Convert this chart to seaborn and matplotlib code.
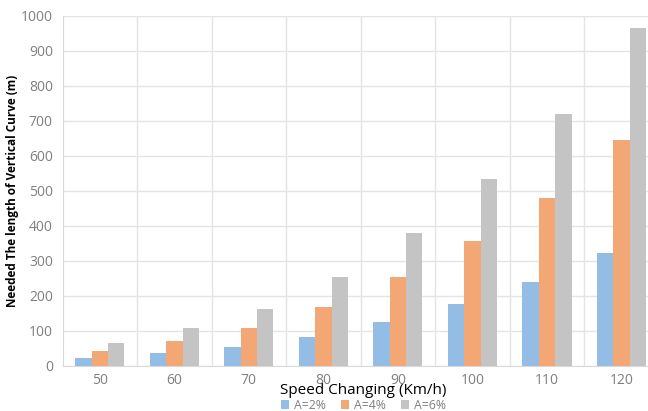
import pandas as pd
import matplotlib.pyplot as plt
import seaborn as sns

# --- data ---
speeds = ["50", "60", "70", "80", "90", "100", "110", "120"]
a2 = [23, 36, 53, 83, 125, 177, 240, 322]
a4 = [43, 71, 108, 167, 253, 356, 479, 645]
a6 = [66, 108, 162, 253, 378, 533, 720, 966]
series_names = ["A=2%", "A=4%", "A=6%"]
colors = ["#93BDE4", "#F2A774", "#C4C4C4"]

df = pd.DataFrame({
    "speed": speeds * 3,
    "length": a2 + a4 + a6,
    "series": [s for s in series_names for _ in speeds],
})

sns.set_style("white")
plt.rcParams["font.family"] = ["Open Sans", "DejaVu Sans"]

fig = plt.figure(figsize=(6.48, 4.11), dpi=100)
ax = fig.add_axes([0.0965, 0.110, 0.920, 0.852])

sns.barplot(
    data=df, x="speed", y="length", hue="series",
    palette=colors, width=0.66, saturation=1, linewidth=0,
    ax=ax, zorder=3,
)

ax.set_ylim(0, 1000)
ax.set_xlim(-0.5, len(speeds) - 0.5)
ax.set_yticks(range(0, 1001, 100))

# Excel-style gridlines: horizontal at each 100, vertical between categories
ax.set_xticks([i + 0.5 for i in range(len(speeds) - 1)], minor=True)
ax.grid(axis="y", color="#E4E4E4", lw=1, zorder=0)
ax.grid(axis="x", which="minor", color="#E4E4E4", lw=1, zorder=0)
ax.tick_params(axis="both", which="both", length=0, colors="#7F7F7F",
               labelsize=10)
ax.tick_params(axis="x", pad=5)
ax.tick_params(axis="y", pad=7)

for side in ["top", "right"]:
    ax.spines[side].set_visible(False)
ax.spines["left"].set_color("#D9D9D9")
ax.spines["bottom"].set_color("#D9D9D9")

ax.set_xlabel("Speed Changing (Km/h)", fontsize=11, color="black")
ax.xaxis.set_label_coords(0.505, -0.048, transform=ax.transAxes)
ax.xaxis.label.set_va("top")
ax.set_ylabel("Needed The length of Vertical Curve (m)", fontsize=8.5,
              fontweight="bold", color="black", labelpad=1)

ax.legend(
    loc="upper center", bbox_to_anchor=(0.505, -0.080), ncol=3, frameon=False,
    fontsize=8.8, handlelength=0.7, handleheight=0.7, handletextpad=0.4,
    columnspacing=1.2, labelcolor="#7F7F7F", borderaxespad=0,
)

fig.savefig("out.png", dpi=100)
